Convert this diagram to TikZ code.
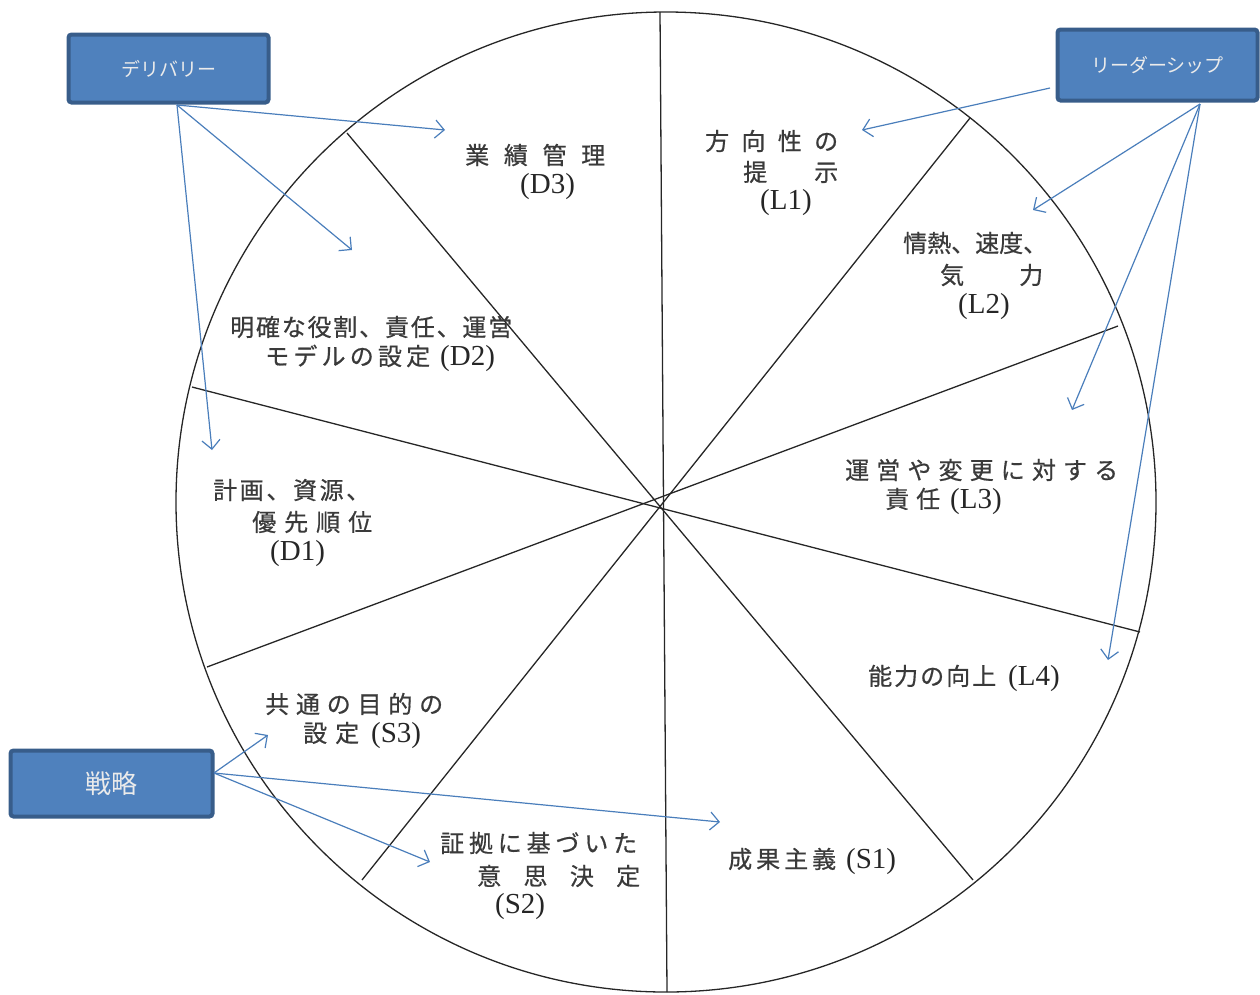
\documentclass[tikz,border=0pt]{standalone}
\usepackage{fontspec}
\setmainfont{Liberation Serif}
\newfontfamily\cjk[FakeBold=0.6]{Noto Sans CJK JP}
\newfontfamily\cjkbox{Noto Sans CJK JP}
\usetikzlibrary{arrows.meta}
\definecolor{boxfill}{HTML}{4F81BD}
\definecolor{boxline}{HTML}{385D8A}
\definecolor{arr}{HTML}{4A7EBB}
\definecolor{txt}{HTML}{3A3A3A}
\newcommand\spr[2]{\makebox[#1pt][s]{#2}}
\newcommand\lat[1]{{\rmfamily\fontsize{29}{32}\selectfont\color{black!85} #1}}
\tikzset{
  cat/.style={rectangle, rounded corners=3pt, fill=boxfill, draw=boxline, line width=4pt,
    text=white!92!black, font=\cjkbox\fontsize{19}{22}\selectfont, inner sep=0pt},
  seg/.style={draw=black!85, line width=1.3pt},
  lab/.style={anchor=west, inner sep=0pt, text=txt, font=\cjk\fontsize{24}{28}\selectfont},
  ptr/.style={draw=arr, line width=1.2pt, -{Straight Barb[length=9pt,width=18pt]}}
}
\begin{document}
\begin{tikzpicture}[x=1pt,y=-1pt]
\useasboundingbox (0,0) rectangle (1260,994);
% wheel
\draw[seg] (666,502) circle (490);
\draw[seg] (660,12) -- (667,992);
\draw[seg] (347,133) -- (973,880);
\draw[seg] (970,118) -- (362,880);
\draw[seg] (192,387) -- (1140,632);
\draw[seg] (1118,326) -- (207,667);
% category boxes
\node[cat, minimum width=200pt, minimum height=68pt] (dl) at (168.5,68.5) {デリバリー};
\node[cat, minimum width=200pt, minimum height=71pt] (ld) at (1157.5,65) {リーダーシップ};
\node[cat, minimum width=202pt, minimum height=66pt, font=\cjkbox\fontsize{26}{30}\selectfont] (st) at (111.5,783.5) {戦略};
% segment labels
\node[lab] (d3a) at (465,155) {\spr{140}{業\hfill 績\hfill 管\hfill 理}};
\node[lab] (d3b) at (520,187) {\lat{(D3)}};
\node[lab] (l1a) at (705,141) {\spr{133}{方\hfill 向\hfill 性\hfill の}};
\node[lab] (l1b) at (743,172) {\spr{95}{提\hfill 示}};
\node[lab] (l1c) at (760,203) {\lat{(L1)}};
\node[lab] (l2a) at (903,243) {\spr{142}{情熱、速度、}};
\node[lab] (l2b) at (940,275) {\spr{103}{気\hfill 力}};
\node[lab] (l2c) at (958,307) {\lat{(L2)}};
\node[lab] (d2a) at (230,327) {\spr{282}{明\hfill 確\hfill な\hfill 役\hfill 割\hfill 、\hfill 責\hfill 任\hfill 、\hfill 運\hfill 営}};
\node[lab] (d2b) at (265,358) {\spr{165}{モ\hfill デ\hfill ル\hfill の\hfill 設\hfill 定}\hspace{10pt}\lat{(D2)}};
\node[lab] (d1a) at (213,490) {\spr{157}{計\hfill 画\hfill 、\hfill 資\hfill 源\hfill 、}};
\node[lab] (d1b) at (252,522) {\spr{120}{優\hfill 先\hfill 順\hfill 位}};
\node[lab] (d1c) at (270,554) {\lat{(D1)}};
\node[lab] (l3a) at (845,470) {\spr{273}{運\hfill 営\hfill や\hfill 変\hfill 更\hfill に\hfill 対\hfill す\hfill る}};
\node[lab] (l3b) at (885,501) {\spr{55}{責\hfill 任}\hspace{10pt}\lat{(L3)}};
\node[lab] (l4) at (868,678) {\spr{128}{能\hfill 力\hfill の\hfill 向\hfill 上}\hspace{12pt}\lat{(L4)}};
\node[lab] (s3a) at (265,704) {\spr{178}{共\hfill 通\hfill の\hfill 目\hfill 的\hfill の}};
\node[lab] (s3b) at (303,735) {\spr{56}{設\hfill 定}\hspace{12pt}\lat{(S3)}};
\node[lab] (s2a) at (440,843) {\spr{197}{証\hfill 拠\hfill に\hfill 基\hfill づ\hfill い\hfill た}};
\node[lab] (s2b) at (477,876) {\spr{163}{意\hfill 思\hfill 決\hfill 定}};
\node[lab] (s2c) at (495,907) {\lat{(S2)}};
\node[lab] (s1) at (728,861) {\spr{108}{成\hfill 果\hfill 主\hfill 義}\hspace{10pt}\lat{(S1)}};
% arrow origins and ends
\coordinate (dlo) at (177,105);
\coordinate (ldo) at (1200,104);
\coordinate (ldl) at (1050,88);
\coordinate (sto) at (214,773);
\coordinate (e1) at (445,130);
\coordinate (e2) at (352,250);
\coordinate (e3) at (212,450);
\coordinate (e4) at (862,130);
\coordinate (e5) at (1033,210);
\coordinate (e6) at (1072,410);
\coordinate (e7) at (1108,660);
\coordinate (e8) at (268,735);
\coordinate (e9) at (430,862);
\coordinate (e10) at (720,822);
\draw[ptr] (dlo) -- (e1);
\draw[ptr] (dlo) -- (e2);
\draw[ptr] (dlo) -- (e3);
\draw[ptr] (ldl) -- (e4);
\draw[ptr] (ldo) -- (e5);
\draw[ptr] (ldo) -- (e6);
\draw[ptr] (ldo) -- (e7);
\draw[ptr] (sto) -- (e8);
\draw[ptr] (sto) -- (e9);
\draw[ptr] (sto) -- (e10);
\end{tikzpicture}
\end{document}
